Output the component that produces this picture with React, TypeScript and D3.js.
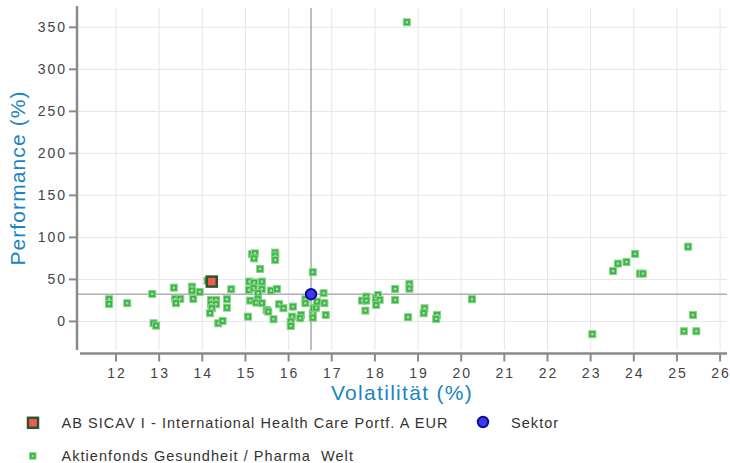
import React from 'react';
import * as d3 from 'd3';

// peer funds: volatility (%) and performance (%)
const peerVolatility = [
  11.84, 11.84, 12.26, 12.84, 12.87, 12.93, 13.34, 13.37, 13.49, 13.39,
  13.76, 13.76, 13.94, 13.79, 14.12, 14.2, 14.32, 14.2, 14.32, 14.22,
  14.18, 14.57, 14.57, 14.67, 14.37, 14.47, 15.06, 15.15, 15.22, 15.2,
  15.69, 15.69, 15.69, 15.34, 16.56, 15.09, 15.2, 15.38, 15.08, 15.19,
  15.38, 15.29, 15.29, 15.59, 15.73, 15.11, 15.25, 15.38, 15.49, 15.53,
  15.78, 15.88, 16.1, 15.65, 16.08, 16.05, 16.05, 16.29, 16.27, 16.39,
  16.39, 16.56, 16.56, 16.58, 16.64, 16.66, 16.81, 16.83, 16.86, 17.7,
  17.8, 17.8, 17.78, 18.02, 18.07, 18.11, 18.03, 18.47, 18.47, 18.8,
  18.8, 18.77, 19.15, 19.13, 19.44, 19.42, 20.25, 18.74, 23.04, 23.52,
  23.63, 23.83, 24.03, 24.14, 24.21, 25.26, 25.37, 25.16, 25.45,
];
const peerPerformance = [
  26.4, 20.8, 21.7, 32.7, -2.2, -5, 40.2, 26.8, 26.8, 21.7,
  41.4, 36.7, 35.1, 26.8, 48.6, 25.6, 25.6, 20.5, 20.5, 15.7,
  9.8, 26.4, 16.4, 38.3, -2.2, 0.6, 5.7, 80, 81, 75,
  81.9, 78.3, 73.2, 62.5, 58.6, 47.4, 46.2, 47.4, 37.5, 39.5,
  38.3, 33.6, 26.4, 36.7, 38.7, 24.8, 22.4, 21.7, 13.7, 11.7,
  20.5, 15.7, 17.6, 2.6, 5.7, -0.2, -5.4, 7.7, 3.8, 26.4,
  21.7, 9.8, 4.5, 15.7, 16.4, 23.6, 33.6, 21.7, 7.7, 24.8,
  29.5, 24.8, 12.9, 27.6, 31.5, 25.6, 19.6, 38.7, 25.6, 44.6,
  39, 5, 15.7, 9.8, 7.7, 3, 26.4, 356, -15.2, 60,
  68.8, 70.8, 80.4, 56.9, 56.9, 89, 7.7, -11.7, -11.7,
];

const fundVolatility = [14.22];
const fundPerformance = [47.4];
const sectorVolatility = [16.52];
const sectorPerformance = [32.4];

const xTicks = [12, 13, 14, 15, 16, 17, 18, 19, 20, 21, 22, 23, 24, 25, 26];
const yTicks = [0, 50, 100, 150, 200, 250, 300, 350];

const fundName = 'AB SICAV I - International Health Care Portf. A EUR';
const sectorName = 'Sektor';
const peerName = 'Aktienfonds Gesundheit / Pharma  Welt';

const font = '"Liberation Sans", Arial, sans-serif';
const titleBlue = '#1a84c4';

const App = () => {
  const left = 77, right = 727, top = 8, bottom = 350;
  const x = d3.scaleLinear().domain([11.096, 26.16]).range([left, right]);
  const y = d3.scaleLinear().domain([-34, 373]).range([bottom, top]);
  const axisY = 353.5;

  const peers = peerVolatility.map((v, i) => ({ v, p: peerPerformance[i] }));

  return (
    <svg width={730} height={463} style={{ position: 'absolute', left: 0, top: 0, fontFamily: font }}>
      <rect width={730} height={463} fill="#fff" />
      {/* grid */}
      {xTicks.map(t => (
        <line key={'gx' + t} x1={x(t)} x2={x(t)} y1={top} y2={bottom} stroke="#e6e6e6" />
      ))}
      {yTicks.map(t => (
        <line key={'gy' + t} x1={left} x2={right} y1={y(t)} y2={y(t)} stroke="#e6e6e6" />
      ))}
      {/* sector reference lines */}
      <line x1={x(sectorVolatility[0])} x2={x(sectorVolatility[0])} y1={top} y2={bottom} stroke="#808080" strokeWidth={1} />
      <line x1={left} x2={right} y1={y(sectorPerformance[0])} y2={y(sectorPerformance[0])} stroke="#b0b0b0" strokeWidth={1.5} />

      {/* peer funds */}
      {peers.map((d, i) => (
        <g key={'p' + i} transform={`translate(${x(d.v)},${y(d.p)})`}>
          <rect x={-3.5} y={-3.5} width={7} height={7} fill="#3fb24a" stroke="#8bd38b" strokeWidth={1} />
          <rect x={-1.2} y={-1.2} width={2.4} height={2.4} fill="#9be69b" />
        </g>
      ))}

      {/* fund */}
      {fundVolatility.map((v, i) => (
        <rect key={'f' + i} x={x(v) - 5} y={y(fundPerformance[i]) - 5} width={10} height={10}
          fill="#f55a50" stroke="#2d552d" strokeWidth={2.5} />
      ))}
      {/* sector */}
      {sectorVolatility.map((v, i) => (
        <circle key={'s' + i} cx={x(v)} cy={y(sectorPerformance[i])} r={5.2}
          fill="#3c3ce6" stroke="#0a0a9e" strokeWidth={2} />
      ))}

      {/* y axis */}
      <line x1={left} x2={left} y1={6} y2={bottom} stroke="#8a8a8a" strokeWidth={2.5} />
      {yTicks.map(t => (
        <g key={'yt' + t}>
          <line x1={left - 8} x2={left} y1={y(t)} y2={y(t)} stroke="#8a8a8a" strokeWidth={2} />
          <text x={left - 10} y={y(t)} dy="0.36em" textAnchor="end" fontSize={14} fill="#444" letterSpacing={2}>{t}</text>
        </g>
      ))}
      {/* x axis */}
      <line x1={80} x2={right} y1={axisY} y2={axisY} stroke="#8a8a8a" strokeWidth={2.5} />
      {xTicks.map(t => (
        <g key={'xt' + t}>
          <line x1={x(t)} x2={x(t)} y1={axisY} y2={axisY + 8} stroke="#8a8a8a" strokeWidth={2} />
          <text x={x(t) + 1} y={378} textAnchor="middle" fontSize={14} fill="#444" letterSpacing={2}>{t}</text>
        </g>
      ))}

      {/* axis titles */}
      <text transform="translate(25,178) rotate(-90)" textAnchor="middle" fontSize={21} fill={titleBlue} letterSpacing={1.1}>Performance (%)</text>
      <text x={402} y={400} textAnchor="middle" fontSize={21} fill={titleBlue} letterSpacing={1.3}>Volatilität (%)</text>

      {/* legend */}
      <rect x={28} y={417.8} width={10} height={10} fill="#f55a50" stroke="#2d552d" strokeWidth={2.5} />
      <text x={61.5} y={428} fontSize={14.5} fill="#333" letterSpacing={1.05}>{fundName}</text>
      <circle cx={483} cy={422} r={5.2} fill="#3c3ce6" stroke="#0a0a9e" strokeWidth={2} />
      <text x={511} y={428} fontSize={14.5} fill="#333" letterSpacing={1.05}>{sectorName}</text>
      <rect x={29.5} y={452.7} width={6.5} height={6.5} fill="#3fb24a" stroke="#8bd38b" strokeWidth={1} />
      <rect x={31.7} y={454.9} width={2.1} height={2.1} fill="#9be69b" />
      <text x={61.5} y={461} fontSize={14.5} fill="#333" letterSpacing={1.05} style={{ whiteSpace: 'pre' }}>{peerName}</text>
    </svg>
  );
};

export default App;
